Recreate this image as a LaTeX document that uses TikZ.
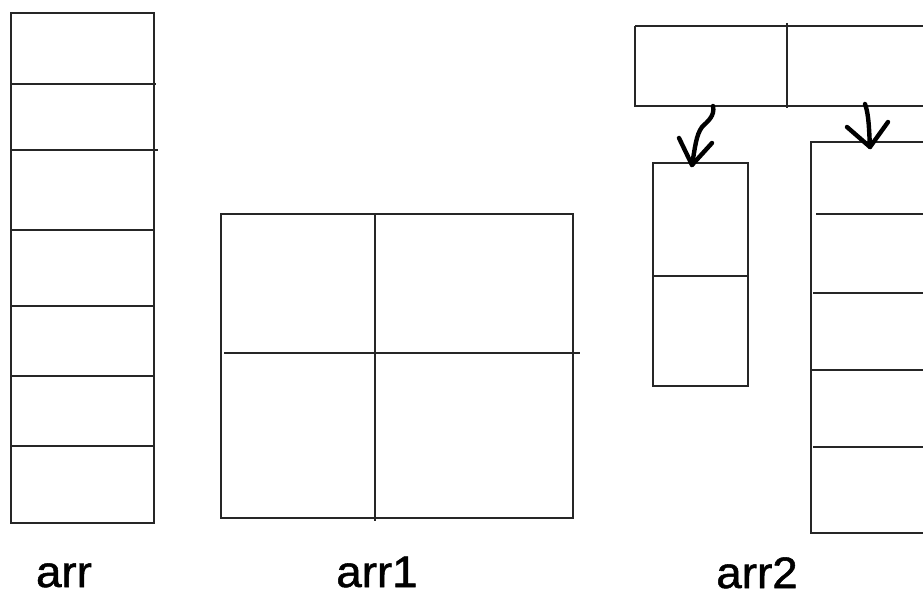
\documentclass[tikz,border=0pt]{standalone}
\usepackage{fontspec}
\setmainfont{Liberation Sans}
\newfontfamily\lblfont{Liberation Sans}[FakeBold=1.2,FakeStretch=1.04]
\begin{document}
\begin{tikzpicture}[x=1pt,y=-1pt,
  boxline/.style={line width=1.6pt,draw=black!85},
  pen/.style={line width=4.4pt,line cap=round,line join=round},
  lbl/.style={font=\lblfont\fontsize{44}{48}\selectfont,anchor=base,inner sep=0pt}]
\useasboundingbox (0,0) rectangle (923,596);
% arr
\draw[boxline] (11,13) rectangle (154,523);
\draw[boxline] (11,84) -- (156,84);
\draw[boxline] (11,150) -- (158,150);
\draw[boxline] (11,230) -- (154,230);
\draw[boxline] (11,306) -- (154,306);
\draw[boxline] (11,376) -- (154,376);
\draw[boxline] (11,446) -- (154,446);
% arr1
\draw[boxline] (221,214) rectangle (573,518);
\draw[boxline] (375,214) -- (375,521);
\draw[boxline] (224,353) -- (580,353);
% arr2 top
\draw[boxline] (635,26) -- (935,26);
\draw[boxline] (635,26) -- (635,106) -- (935,106);
\draw[boxline] (787,23) -- (787,108);
% small box
\draw[boxline] (653,163) rectangle (748,386);
\draw[boxline] (653,276) -- (748,276);
% big box
\draw[boxline] (935,142) -- (811,142) -- (811,533) -- (935,533);
\draw[boxline] (816,214) -- (935,214);
\draw[boxline] (813,293) -- (935,293);
\draw[boxline] (811,370) -- (935,370);
\draw[boxline] (813,447) -- (935,447);
% arrows
\coordinate (s1) at (713,106);
\coordinate (e1) at (692,165);
\coordinate (s2) at (865,104);
\coordinate (e2) at (870,147);
\draw[pen] (s1) .. controls (715,116) and (708,121) .. (702,127)
  .. controls (696,135) and (695,148) .. (e1);
\draw[pen] (679,138) -- (e1) -- (712,143);
\draw[pen] (s2) .. controls (869,115) and (869,130) .. (e2);
\draw[pen] (847,127) -- (e2) -- (888,122);
% labels
\node[lbl] (l0) at (64,587) {arr};
\node[lbl] (l1) at (377,587) {arr1};
\node[lbl] (l2) at (757,588) {arr2};
\end{tikzpicture}
\end{document}
